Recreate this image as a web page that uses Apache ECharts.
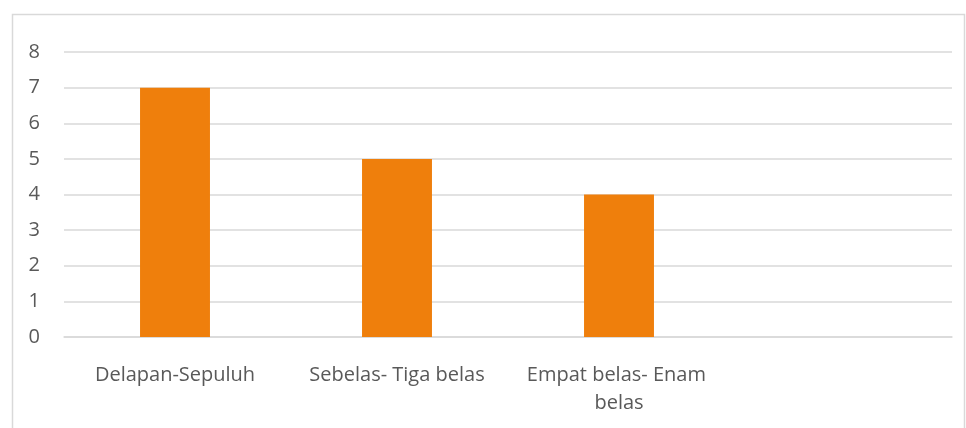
<!DOCTYPE html>
<html><head><meta charset="utf-8">
<script src="https://cdn.jsdelivr.net/npm/echarts@6/dist/echarts.min.js"></script>
<style>html,body{margin:0;padding:0;background:#fff}#c{width:966px;height:428px}</style>
</head><body><div id="c"></div>
<script>
var categories = ['Delapan-Sepuluh', 'Sebelas- Tiga belas', 'Empat belas- Enam belas', ''];
var values = [7, 5, 4, null];
var yTicks = [0, 1, 2, 3, 4, 5, 6, 7, 8];

var chart = echarts.init(document.getElementById('c'));
chart.setOption({
  animation: false,
  backgroundColor: '#fff',
  graphic: [{
    type: 'rect', silent: true,
    shape: { x: 12.5, y: 14.5, width: 952, height: 430 },
    style: { fill: 'none', stroke: '#d9d9d9', lineWidth: 1.5 }
  }],
  grid: { left: 64, right: 14, top: 52, bottom: 91, containLabel: false },
  xAxis: {
    type: 'category', data: categories,
    axisLine: { show: true, lineStyle: { color: '#d9d9d9', width: 1.5 } },
    axisTick: { show: false },
    axisLabel: {
      interval: 0, color: '#595959', fontSize: 20, fontFamily: 'Open Sans',
      margin: 24, width: 210, overflow: 'break', lineHeight: 28
    }
  },
  yAxis: {
    type: 'value', min: yTicks[0], max: yTicks[yTicks.length - 1], interval: 1,
    axisLine: { show: false }, axisTick: { show: false },
    splitLine: { lineStyle: { color: '#d9d9d9', width: 1.5 } },
    axisLabel: { color: '#595959', fontSize: 20, fontFamily: 'Open Sans', margin: 24 }
  },
  series: [{
    type: 'bar', data: values, barWidth: '31.5%',
    itemStyle: { color: '#ef7f0c' }
  }]
});
</script></body></html>
